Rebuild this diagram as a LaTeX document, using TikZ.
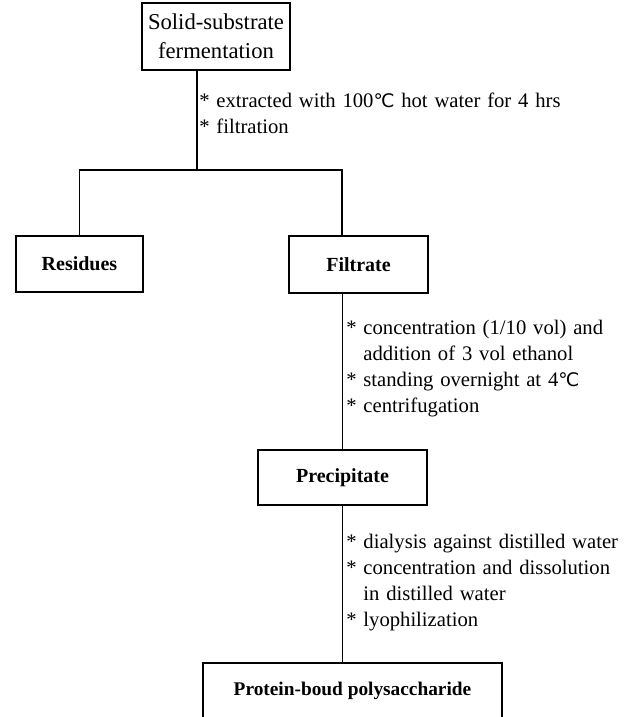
\documentclass[tikz,border=0pt]{standalone}
\usepackage{fontspec}
\setmainfont{Liberation Serif}
\newfontfamily\symfont{DejaVu Sans}
\newcommand{\degC}{{\symfont\fontsize{14}{14}\selectfont ℃}}
\newcommand{\notefont}{\fontsize{15.5}{19.5}\selectfont\spaceskip=0.33em plus 0.1em\relax}
\tikzset{
  box/.style={draw, line width=1.1pt, inner sep=0pt, align=center, font=\fontsize{15}{19}\selectfont\bfseries},
  link/.style={draw, line width=0.9pt},
  note/.style={anchor=west, align=left, inner sep=0pt, font=\notefont},
}

\begin{document}
\begin{tikzpicture}[x=0.75pt,y=0.75pt,yscale=-1,xscale=1]
\useasboundingbox (0,0) rectangle (633,717);
\clip (0,0) rectangle (633,717);

% Boxes
\node [box, minimum width=111pt, minimum height=50.25pt, font=\fontsize{17}{22}\selectfont] (ssf) at (216,36.5) {Solid-substrate\\fermentation};
\node [box, minimum width=95.25pt, minimum height=42pt] (res) at (79.5,264) {Residues};
\node [box, minimum width=104.25pt, minimum height=42.75pt] (filt) at (358.5,264.5) {Filtrate};
\node [box, minimum width=126.75pt, minimum height=41.25pt] (prec) at (342.5,477.5) {Precipitate};
\node [box, minimum width=224.25pt, minimum height=42pt, font=\fontsize{14.5}{19}\selectfont\bfseries] (pbp) at (352.5,691) {Protein-boud polysaccharide};

\coordinate (split) at (197,170);
\coordinate (fork) at (342,170);

%Straight Lines
\draw [link] (ssf.south -| split) -- (split);
%Straight Lines
\draw [link] (res.north) |- (fork) -- (fork |- filt.north);
%Straight Lines
\draw [link] (filt.south -| prec.north) -- (prec.north);
%Straight Lines
\draw [link] (prec.south) -- (prec.south |- pbp.north);

% Text Node
\node [note] (step1) at (199,113) {*\ extracted with 100\degC\ hot water for 4 hrs\\*\ filtration};
% Text Node
\node [note] (step2) at (346,368.5) {*\ concentration (1/10 vol) and\\\phantom{*}\ addition of 3 vol ethanol\\*\ standing overnight at 4\degC\\*\ centrifugation};
% Text Node
\node [note] (step3) at (346,583) {*\ dialysis against distilled water\\*\ concentration and dissolution\\\phantom{*}\ in distilled water\\*\ lyophilization};

\end{tikzpicture}
\end{document}
